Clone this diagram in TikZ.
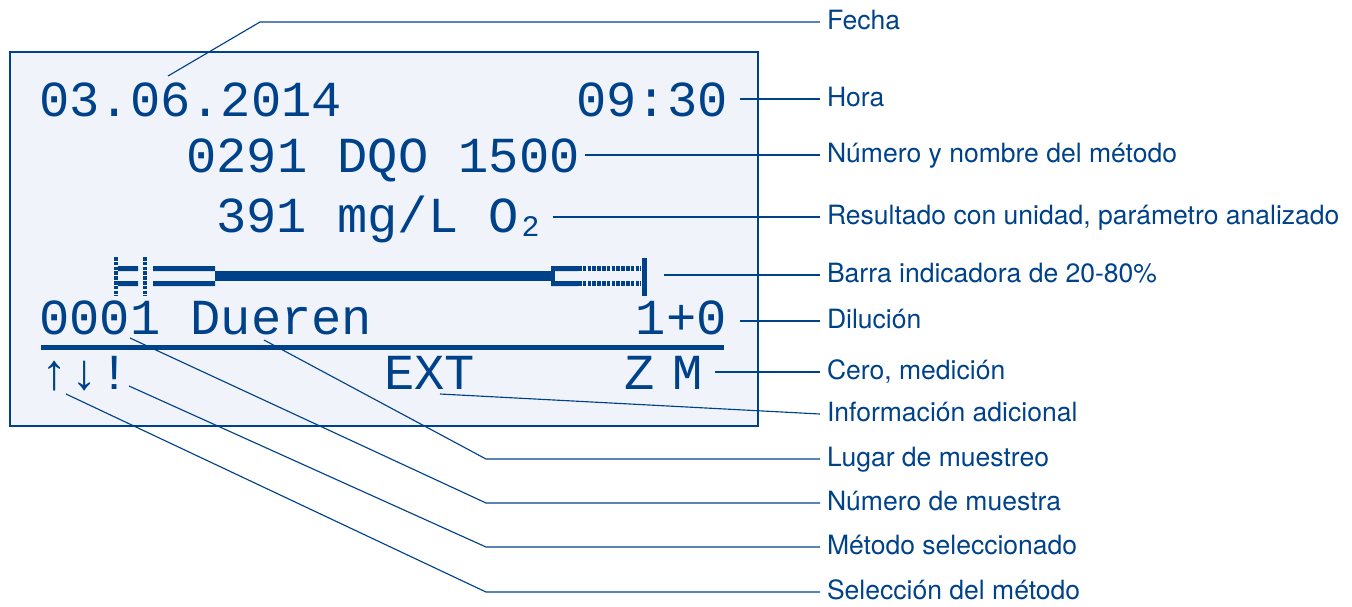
\documentclass[tikz,border=0pt]{standalone}
\usepackage{fontspec}
\setmainfont{TeX Gyre Heros}
\newfontfamily\lcdfont{Liberation Mono}
\definecolor{lcdblue}{HTML}{00428A}
\definecolor{lcdback}{HTML}{F0F4FA}
\tikzset{
    lcdtext/.style={
        anchor=base west,inner sep=0pt,text=lcdblue,font=\lcdfont\fontsize{28.7}{30}\selectfont
    },
    infolabel/.style={
        anchor=west,inner xsep=3.8pt,inner ysep=0pt,text height=.9em,text depth=0pt,
        text=lcdblue,font=\fontsize{15.1}{17}\selectfont
    },
    leader/.style={
        draw=lcdblue,line width=.65pt
    },
    dotline/.style={
        draw=lcdblue,line width=2.85pt,dash pattern=on 2.05pt off .68pt
    }
}

\begin{document}
\begin{tikzpicture}[x=0.02cm,y=-0.02cm]
\useasboundingbox (0,0) rectangle (1352,606);
\draw[draw=lcdblue,fill=lcdback,line width=1.54pt] (10,52) rectangle (758,426);

\node[lcdtext] (fecha) at (39,116) {03.06.2014};
\node[lcdtext,anchor=base east] (hora) at (728,116) {09:30};
\node[lcdtext] (metodo) at (186,172) {0291 DQO 1500};
\node[lcdtext] (resultado) at (216,232) {391 mg/L O\kern1.5pt\raisebox{-2.8pt}{\fontsize{17}{17}\selectfont 2}};
\node[lcdtext] (muestra) at (39,334) {0001 Dueren};
\node[lcdtext,anchor=base east] (dilucion) at (727,334) {1+0};
\node[lcdtext] (flechas) at (39,389) {↑↓!};
\node[lcdtext] (extra) at (384,389) {EXT};
\node[lcdtext] (cero) at (624,389) {Z\hspace{-.24em} M};

\draw[line width=2.28pt,draw=lcdblue,dash pattern=on 2.05pt off .68pt] (116,257) -- (116,296);
\fill[lcdblue] (118,266) rectangle (138,271) (118,281) rectangle (138,286);
\draw[line width=2.28pt,draw=lcdblue,dash pattern=on 2.05pt off .68pt] (145,257) -- (145,296);
\fill[lcdblue] (153,266) rectangle (215,271) (153,281) rectangle (215,286);
\fill[lcdblue] (215,271) rectangle (555,281);
\fill[lcdblue] (551,266) rectangle (578,271) (551,281) rectangle (578,286);
\draw[dotline] (578,268.5) -- (641,268.5) (578,283.5) -- (641,283.5);
\fill[lcdblue] (642,258) rectangle (647,296);
\draw[draw=lcdblue,line width=2.85pt] (41,347.5) -- (724,347.5);

\coordinate (fecha-c) at (168,76);
\coordinate (hora-c) at (740,99);
\coordinate (metodo-c) at (585,155);
\coordinate (resultado-c) at (553,217);
\coordinate (barra-c) at (664,275);
\coordinate (dilucion-c) at (740,321);
\coordinate (cero-c) at (715,372);
\coordinate (extra-c) at (440,394);
\coordinate (lugar-c) at (264,340);
\coordinate (muestra-c) at (130,338);
\coordinate (metsel-c) at (129,386);
\coordinate (selmet-c) at (66,394);

\node[infolabel] (fecha-l) at (820,22) {Fecha};
\node[infolabel] (hora-l) at (820,99) {Hora};
\node[infolabel] (metodo-l) at (820,155) {Número y nombre del método};
\node[infolabel] (resultado-l) at (820,217) {Resultado con unidad, parámetro analizado};
\node[infolabel] (barra-l) at (820,275) {Barra indicadora de 20-80\%};
\node[infolabel] (dilucion-l) at (820,321) {Dilución};
\node[infolabel] (cero-l) at (820,372) {Cero, medición};
\node[infolabel] (extra-l) at (820,414) {Información adicional};
\node[infolabel] (lugar-l) at (820,459) {Lugar de muestreo};
\node[infolabel] (muestra-l) at (820,503) {Número de muestra};
\node[infolabel] (metsel-l) at (820,547) {Método seleccionado};
\node[infolabel] (selmet-l) at (820,592) {Selección del método};

\draw[leader] (fecha-c) -- (260,0 |- fecha-l.west) -- (fecha-l.west);
\draw[leader] (hora-c) -- (hora-l.west);
\draw[leader] (metodo-c) -- (metodo-l.west);
\draw[leader] (resultado-c) -- (resultado-l.west);
\draw[leader] (barra-c) -- (barra-l.west);
\draw[leader] (dilucion-c) -- (dilucion-l.west);
\draw[leader] (cero-c) -- (cero-l.west);
\draw[leader] (extra-c) -- (extra-l.west);
\draw[leader] (lugar-c) -- (486,0 |- lugar-l.west) -- (lugar-l.west);
\draw[leader] (muestra-c) -- (486,0 |- muestra-l.west) -- (muestra-l.west);
\draw[leader] (metsel-c) -- (486,0 |- metsel-l.west) -- (metsel-l.west);
\draw[leader] (selmet-c) -- (486,0 |- selmet-l.west) -- (selmet-l.west);
\end{tikzpicture}
\end{document}
